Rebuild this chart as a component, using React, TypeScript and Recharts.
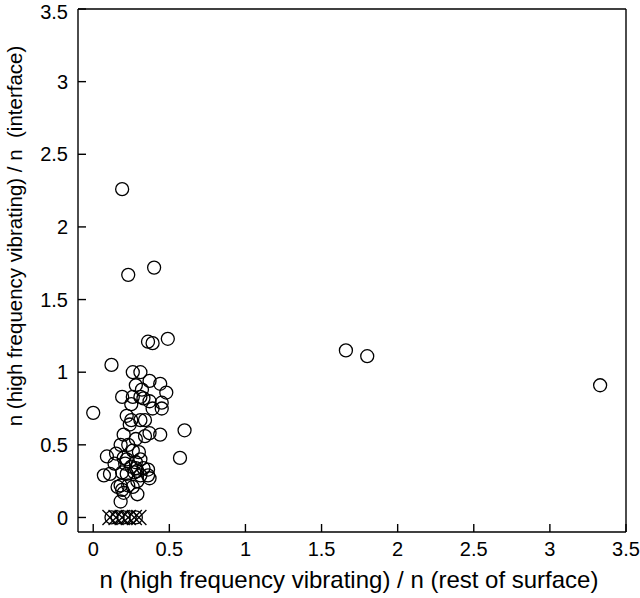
import { ScatterChart, Scatter, XAxis, YAxis, Label } from 'recharts'

const FONT = '"Liberation Sans", Arial, sans-serif'

const xTicks = [0, 0.5, 1, 1.5, 2, 2.5, 3, 3.5]
const yTicks = [0, 0.5, 1, 1.5, 2, 2.5, 3, 3.5]

// open circles
const circleX = [
  0.19, 0.23, 0.40, 1.66, 1.80, 3.33, 0.49, 0.36, 0.39, 0.12, 0.0, 0.60, 0.57,
  0.26, 0.31, 0.37, 0.44, 0.48, 0.28, 0.32, 0.19, 0.26, 0.31, 0.33, 0.37, 0.45,
  0.45, 0.39, 0.25, 0.22, 0.25, 0.24, 0.31, 0.34, 0.20, 0.28, 0.34, 0.37, 0.44,
  0.18, 0.23, 0.26, 0.09, 0.15, 0.20, 0.22, 0.30, 0.31, 0.14, 0.21, 0.25, 0.28,
  0.28, 0.29, 0.27, 0.33, 0.36, 0.36, 0.37, 0.07, 0.11, 0.19, 0.22, 0.31, 0.29,
  0.18, 0.19, 0.16, 0.23, 0.26, 0.20, 0.29, 0.18,
  0.12, 0.16, 0.20, 0.24, 0.28,
]
const circleY = [
  2.26, 1.67, 1.72, 1.15, 1.11, 0.91, 1.23, 1.21, 1.20, 1.05, 0.72, 0.60, 0.41,
  1.00, 1.00, 0.94, 0.92, 0.86, 0.91, 0.88, 0.83, 0.83, 0.83, 0.82, 0.80, 0.79,
  0.75, 0.75, 0.78, 0.70, 0.67, 0.64, 0.67, 0.67, 0.57, 0.54, 0.56, 0.58, 0.57,
  0.50, 0.50, 0.46, 0.42, 0.44, 0.41, 0.40, 0.45, 0.40, 0.37, 0.37, 0.35, 0.38,
  0.34, 0.32, 0.31, 0.34, 0.33, 0.29, 0.27, 0.29, 0.30, 0.31, 0.30, 0.29, 0.25,
  0.22, 0.19, 0.21, 0.22, 0.21, 0.17, 0.16, 0.11,
  0, 0, 0, 0, 0,
]

// crosses on the zero line
const crossX = [0.11, 0.15, 0.19, 0.23, 0.27, 0.30]
const crossY = [0, 0, 0, 0, 0, 0]

const circles = circleX.map((x, i) => ({ x, y: circleY[i] }))
const crosses = crossX.map((x, i) => ({ x, y: crossY[i] }))

const CircleDot = (props: any) => {
  const { cx, cy } = props
  return <circle cx={cx} cy={cy} r={6.5} fill="none" stroke="#000" strokeWidth={1.3} />
}

const CrossDot = (props: any) => {
  const { cx, cy } = props
  const s = 7.5
  return (
    <g stroke="#000" strokeWidth={1.3}>
      <line x1={cx - s} y1={cy - s} x2={cx + s} y2={cy + s} />
      <line x1={cx - s} y1={cy + s} x2={cx + s} y2={cy - s} />
    </g>
  )
}

// draws nothing, only ties the mirror axes (top / right) to the chart
const NoDot = () => <g />

const axisStroke = { stroke: '#000', strokeWidth: 1.4 }
const tickStyle = { fontSize: 20, fill: '#000', fontFamily: FONT }

export default function App() {
  return (
    <div style={{ width: 640, height: 598 }}>
      <style>{'body{margin:0}'}</style>
      <ScatterChart width={640} height={598} margin={{ top: 8, right: 13, bottom: 0, left: 0 }}>
        <XAxis
          xAxisId="b"
          dataKey="x"
          type="number"
          domain={[-0.1, 3.5]}
          ticks={xTicks}
          allowDataOverflow
          height={66}
          tickSize={-8}
          tickMargin={18}
          axisLine={axisStroke}
          tickLine={axisStroke}
          tick={tickStyle}
        >
          <Label
            value="n (high frequency vibrating) / n (rest of surface)"
            position="insideBottom"
            offset={10}
            dx={-3}
            style={{ fontSize: 24, fill: '#000', fontFamily: FONT }}
          />
        </XAxis>
        <XAxis
          xAxisId="t"
          dataKey="x"
          orientation="top"
          type="number"
          domain={[-0.1, 3.5]}
          ticks={xTicks}
          allowDataOverflow
          height={1}
          tickSize={-8}
          axisLine={axisStroke}
          tickLine={axisStroke}
          tick={false}
        />
        <YAxis
          yAxisId="l"
          dataKey="y"
          type="number"
          domain={[-0.1, 3.5]}
          ticks={yTicks}
          allowDataOverflow
          width={78}
          tickSize={-8}
          tickMargin={18}
          axisLine={axisStroke}
          tickLine={axisStroke}
          tick={tickStyle}
        >
          <Label
            content={() => {
              const cy = 236
              return (
                <text
                  x={22}
                  y={cy}
                  transform={`rotate(-90, 22, ${cy})`}
                  textAnchor="middle"
                  style={{ fontSize: 20.5, fill: '#000', fontFamily: FONT, whiteSpace: 'pre' }}
                >
                  {'n (high frequency vibrating) / n  (interface)'}
                </text>
              )
            }}
          />
        </YAxis>
        <YAxis
          yAxisId="r"
          dataKey="y"
          orientation="right"
          type="number"
          domain={[-0.1, 3.5]}
          ticks={yTicks}
          allowDataOverflow
          width={1}
          tickSize={-8}
          axisLine={axisStroke}
          tickLine={axisStroke}
          tick={false}
        />
        <Scatter
          data={circles}
          xAxisId="b"
          yAxisId="l"
          shape={CircleDot}
          isAnimationActive={false}
        />
        <Scatter
          data={crosses}
          xAxisId="b"
          yAxisId="l"
          shape={CrossDot}
          isAnimationActive={false}
        />
        <Scatter
          data={crosses}
          xAxisId="t"
          yAxisId="r"
          shape={NoDot}
          isAnimationActive={false}
        />
      </ScatterChart>
    </div>
  )
}
